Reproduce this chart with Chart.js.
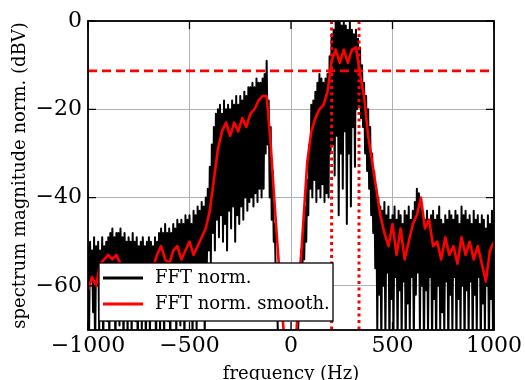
<!DOCTYPE html>
<html>
<head>
<meta charset="utf-8">
<script src="https://cdn.jsdelivr.net/npm/chart.js@4.4.0/dist/chart.umd.min.js"></script>
<style>
html, body { margin: 0; padding: 0; background: #fff; }
</style>
</head>
<body>
<canvas id="chartFFT" width="525" height="380"></canvas>
<script>
// FFT NORM (5 Hz bins, -1000 .. 1000 Hz)
const fftStart = -1000;
const fftStep = 5;
const fftNorm = [
    -51, -72, -50, -58, -52, -66, -49, -75, -51, -60,
    -50, -70, -52, -62, -49, -74, -51, -57, -50, -68,
    -49, -73, -48, -60, -47, -66, -49, -75, -48, -59,
    -48, -69, -47, -62, -49, -74, -48, -58, -50, -71,
    -49, -63, -50, -72, -48, -57, -50, -68, -49, -75,
    -51, -61, -50, -70, -49, -59, -51, -74, -50, -64,
    -49, -72, -50, -58, -51, -67, -49, -75, -50, -61,
    -48, -70, -47, -59, -48, -73, -46, -62, -48, -68,
    -47, -75, -48, -57, -46, -66, -47, -72, -45, -60,
    -46, -69, -45, -56, -46, -74, -44, -61, -45, -67,
    -44, -58, -46, -73, -43, -60, -44, -70, -42, -56,
    -43, -65, -41, -55, -42, -72, -40, -57, -38, -52,
    -33, -55, -28, -48, -24, -52, -21, -45, -20, -49,
    -19, -44, -21, -50, -18, -46, -20, -52, -19, -43,
    -20, -47, -18, -42, -19, -50, -17, -44, -19, -46,
    -17, -42, -18, -45, -16, -40, -17, -43, -15, -41,
    -15, -40, -14, -42, -15, -39, -13, -41, -14, -38,
    -14, -40, -13, -38, -12, -30, -9, -28, -18, -40,
    -24, -45, -34, -50, -46, -58, -60, -70, -74, -80,
    -84, -88, -90, -92, -93, -94, -93, -92, -92, -91,
    -90, -89, -88, -86, -84, -80, -76, -70, -64, -58,
    -52, -58, -48, -54, -42, -50, -36, -44, -28, -38,
    -19, -40, -18, -36, -16, -41, -14, -38, -12, -40,
    -13, -37, -14, -41, -13, -39, -12, -40, -8, -30,
    -3, -28, -2, -35, 0, -26, 0, -44, 0, -30,
    -1, -38, 0, -25, -1, -46, -2, -30, 0, -42,
    -2, -24, -3, -33, -2, -20, -4, -19, -6, -22,
    -10, -24, -14, -30, -17, -34, -20, -38, -24, -44,
    -30, -48, -34, -56, -38, -70, -40, -62, -42, -74,
    -43, -60, -41, -72, -44, -57, -42, -75, -45, -63,
    -44, -70, -42, -58, -45, -74, -43, -61, -44, -72,
    -46, -59, -43, -75, -44, -64, -42, -70, -45, -58,
    -43, -73, -41, -62, -38, -57, -39, -70, -42, -60,
    -44, -75, -45, -61, -43, -71, -46, -58, -44, -74,
    -43, -63, -45, -75, -44, -60, -42, -70, -45, -66,
    -46, -72, -44, -59, -45, -75, -43, -62, -44, -71,
    -45, -58, -43, -74, -44, -63, -46, -70, -42, -60,
    -44, -75, -43, -61, -45, -72, -44, -59, -46, -74,
    -43, -62, -45, -71, -44, -58, -46, -75, -44, -64,
    -45, -70, -47, -60, -44, -75, -46, -63, -43, -71,
    -45,
];

// FFT NORM SMOOTH (20 Hz steps)
const smoothStep = 20;
const fftSmooth = [
    -61, -58, -60, -55, -54, -53, -54, -53, -55, -56,
    -57, -58, -57, -59, -57, -58, -56, -53, -51, -54,
    -55, -52, -51, -54, -52, -50, -53, -51, -49, -47,
    -43, -36, -29, -25, -23, -26, -23, -25, -22, -24,
    -21, -20, -18, -17, -17, -28, -42, -55, -68, -80,
    -86, -76, -60, -46, -32, -25, -22, -20, -19, -16,
    -9, -6.5, -9.5, -6.5, -9.5, -6.5, -6, -12, -17, -26,
    -32, -38, -44, -48, -51, -46, -53, -47, -54, -50,
    -46, -44, -40, -47, -45, -51, -50, -54, -49, -53,
    -51, -55, -49, -53, -50, -54, -51, -55, -59, -52,
    -50,
];

const threshold = -11.3;
const bandEdges = [200, 335];
const xTicks = [-1000, -500, 0, 500, 1000];
const yTicks = [-60, -40, -20, 0];

const serif = "'DejaVu Serif', serif";
const minus = (v) => (v < 0 ? "\u2212" + Math.abs(v) : String(v));

const blackPts = fftNorm.map((v, i) => ({ x: fftStart + i * fftStep, y: v }));
const redPts = fftSmooth.map((v, i) => ({ x: fftStart + i * smoothStep, y: v }));

// frame, inward ticks and legend box
const framePlugin = {
    id: "frame",
    afterDraw(chart) {
        const { ctx, chartArea: a, scales } = chart;
        const sx = scales.x, sy = scales.y;
        ctx.save();

        // legend
        const lx = 99, ly = 263, lw = 234, lh = 58;
        ctx.fillStyle = "#fff";
        ctx.fillRect(lx, ly, lw, lh);
        ctx.strokeStyle = "#000";
        ctx.lineWidth = 1.3;
        ctx.strokeRect(lx, ly, lw, lh);
        ctx.font = "18px " + serif;
        ctx.textBaseline = "middle";
        [0, 1].forEach((k) => {
            const ds = chart.data.datasets[k];
            const yy = ly + 15 + k * 26;
            ctx.strokeStyle = ds.borderColor;
            ctx.lineWidth = 3;
            ctx.beginPath();
            ctx.moveTo(lx + 4, yy);
            ctx.lineTo(lx + 44, yy);
            ctx.stroke();
            ctx.fillStyle = "#000";
            ctx.fillText(ds.label, lx + 56, yy + 0.5);
        });

        // ticks
        ctx.strokeStyle = "#000";
        ctx.lineWidth = 1.3;
        ctx.beginPath();
        xTicks.forEach((t) => {
            const px = sx.getPixelForValue(t);
            ctx.moveTo(px, a.top);
            ctx.lineTo(px, a.top + 8);
            ctx.moveTo(px, a.bottom);
            ctx.lineTo(px, a.bottom - 8);
        });
        yTicks.forEach((t) => {
            const py = sy.getPixelForValue(t);
            ctx.moveTo(a.left, py);
            ctx.lineTo(a.left + 8, py);
            ctx.moveTo(a.right, py);
            ctx.lineTo(a.right - 8, py);
        });
        ctx.stroke();

        ctx.lineWidth = 1.8;
        ctx.strokeRect(a.left, a.top, a.right - a.left, a.bottom - a.top);
        ctx.restore();
    },
};

const ctx = document.getElementById("chartFFT").getContext("2d");
new Chart(ctx, {
    type: "line",
    data: {
        datasets: [
            {
                label: "FFT norm.",
                data: blackPts,
                borderColor: "#000000",
                borderWidth: 2,
                borderJoinStyle: "round",
                pointRadius: 0,
                order: 3,
            },
            {
                label: "FFT norm. smooth.",
                data: redPts,
                borderColor: "#ff0000",
                borderWidth: 2.6,
                borderJoinStyle: "round",
                pointRadius: 0,
                order: 2,
            },
            {
                label: "threshold",
                data: [{ x: -1000, y: threshold }, { x: 1000, y: threshold }],
                borderColor: "#ff0000",
                borderWidth: 2.6,
                borderDash: [9, 5],
                pointRadius: 0,
                order: 1,
            },
            {
                label: "f1",
                data: [{ x: bandEdges[0], y: 0 }, { x: bandEdges[0], y: -70 }],
                borderColor: "#ff0000",
                borderWidth: 3,
                borderDash: [3, 3.5],
                pointRadius: 0,
                order: 0,
            },
            {
                label: "f2",
                data: [{ x: bandEdges[1], y: 0 }, { x: bandEdges[1], y: -70 }],
                borderColor: "#ff0000",
                borderWidth: 3,
                borderDash: [3, 3.5],
                pointRadius: 0,
                order: 0,
            },
        ],
    },
    options: {
        responsive: false,
        animation: false,
        devicePixelRatio: 1,
        layout: {
            padding: { left: 0, right: 30, top: 21, bottom: 0 },
        },
        plugins: {
            legend: { display: false },
            tooltip: { enabled: false },
        },
        scales: {
            x: {
                type: "linear",
                min: -1000,
                max: 1000,
                afterBuildTicks: (s) => { s.ticks = xTicks.map((v) => ({ value: v })); },
                afterFit: (s) => { s.height = 50; },
                grid: { color: "#b0b0b0", lineWidth: 1, drawTicks: false },
                border: { display: false },
                ticks: {
                    padding: 3,
                    maxRotation: 0,
                    color: "#000",
                    font: { family: serif, size: 22 },
                    callback: minus,
                },
                title: {
                    display: true,
                    text: "frequency (Hz)",
                    color: "#000",
                    font: { family: serif, size: 18 },
                    padding: { top: 0, bottom: -5 },
                },
            },
            y: {
                min: -70,
                max: 0,
                afterBuildTicks: (s) => { s.ticks = yTicks.map((v) => ({ value: v })); },
                afterFit: (s) => { s.width = 88; },
                grid: { color: "#b0b0b0", lineWidth: 1, drawTicks: false },
                border: { display: false },
                ticks: {
                    padding: 6,
                    color: "#000",
                    font: { family: serif, size: 22 },
                    callback: minus,
                },
                title: {
                    display: true,
                    text: "spectrum magnitude norm. (dBV)",
                    color: "#000",
                    font: { family: serif, size: 18 },
                    padding: { top: 10, bottom: 0 },
                },
            },
        },
    },
    plugins: [framePlugin],
});
</script>
</body>
</html>
